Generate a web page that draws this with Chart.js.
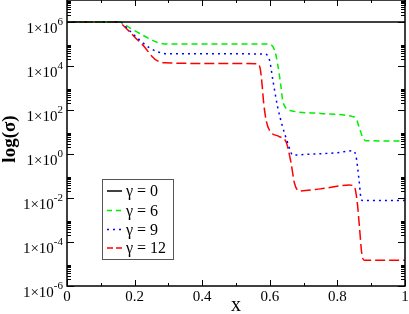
<!DOCTYPE html>
<html><head><meta charset="utf-8">
<script src="https://cdn.jsdelivr.net/npm/chart.js@4.4.1/dist/chart.umd.min.js"></script>
<style>html,body{margin:0;padding:0;background:#fff;overflow:hidden}#wrap{width:409px;height:314px;position:relative}</style>
</head><body><div id="wrap"><canvas id="c" width="409" height="314"></canvas></div>
<script>
const seriesLabels = ['γ = 0', 'γ = 6', 'γ = 9', 'γ = 12'];

const xGamma0 = [0, 1];
const sGamma0 = [1e6, 1e6];

const xGamma6 = [0, 0.156, 0.186, 0.215, 0.245, 0.268, 0.298, 0.4, 0.59, 0.599, 0.614, 0.623, 0.633, 0.638, 0.648, 0.663, 0.75, 0.845, 0.855, 0.864, 0.874, 0.884, 1];
const sGamma6 = [1e6, 1e6, 5.4e5, 3.0e5, 1.7e5, 1.17e5, 1.0e5, 1.0e5, 1.0e5, 9.8e4, 5.4e4, 1.3e4, 1.15e3, 280, 120, 93, 70, 50, 42, 17, 6.2, 4.0, 3.9];

const xGamma9 = [0, 0.156, 0.186, 0.215, 0.245, 0.268, 0.298, 0.4, 0.584, 0.599, 0.609, 0.623, 0.638, 0.653, 0.668, 0.7, 0.8, 0.845, 0.855, 0.864, 0.869, 0.874, 1];
const sGamma9 = [1e6, 1e6, 3.9e5, 1.5e5, 6.6e4, 4.4e4, 3.6e4, 3.6e4, 3.5e4, 1.9e4, 2.3e3, 141, 17, 3.2, 0.89, 0.95, 1.15, 1.4, 0.8, 0.066, 0.0115, 0.0076, 0.0076];

const xGamma12 = [0, 0.152, 0.171, 0.2, 0.23, 0.251, 0.268, 0.289, 0.45, 0.564, 0.572, 0.577, 0.582, 0.589, 0.599, 0.628, 0.648, 0.663, 0.673, 0.687, 0.75, 0.835, 0.85, 0.859, 0.866, 0.872, 0.879, 1];
const sGamma12 = [1e6, 1e6, 5.9e5, 2.1e5, 7.2e4, 2.8e4, 1.7e4, 1.4e4, 1.3e4, 1.26e4, 7e3, 1.5e3, 200, 35, 12, 6.2, 3.6, 0.38, 0.047, 0.021, 0.026, 0.039, 0.033, 0.0058, 3.5e-4, 3.1e-5, 1.5e-5, 1.5e-5];

const xTickValues = [0, 0.2, 0.4, 0.6, 0.8, 1];
const xTickLabels = ['0', '0.2', '0.4', '0.6', '0.8', '1'];
const xMinorTickValues = [0.1, 0.3, 0.5, 0.7, 0.9];
const yTickExponents = [-6, -4, -2, 0, 2, 4, 6];
const yMinorMultipliers = [2, 3, 4, 5, 6, 7, 8, 9];

const xTitle = 'x';
const yTitle = 'log(σ)';

function pts(xs, ys) { return xs.map((x, i) => ({ x: x, y: ys[i] })); }

const SERIF = '"Liberation Serif", "Times New Roman", serif';

const axesPlugin = {
  id: 'graceAxes',
  afterDraw(chart) {
    const ctx = chart.ctx;
    const a = chart.chartArea;
    const xs = chart.scales.x, ys = chart.scales.y;
    ctx.save();
    ctx.strokeStyle = '#000';
    ctx.lineWidth = 1.5;
    ctx.setLineDash([]);
    ctx.strokeRect(a.left, a.top, a.right - a.left, a.bottom - a.top);
    ctx.lineWidth = 1;
    ctx.beginPath();
    xTickValues.forEach(v => {
      const p = Math.round(xs.getPixelForValue(v)) + 0.5;
      ctx.moveTo(p, a.bottom); ctx.lineTo(p, a.bottom - 6);
      ctx.moveTo(p, a.top); ctx.lineTo(p, a.top + 6);
    });
    xMinorTickValues.forEach(v => {
      const p = Math.round(xs.getPixelForValue(v)) + 0.5;
      ctx.moveTo(p, a.bottom); ctx.lineTo(p, a.bottom - 3);
      ctx.moveTo(p, a.top); ctx.lineTo(p, a.top + 3);
    });
    yTickExponents.forEach(e => {
      const p = Math.round(ys.getPixelForValue(Math.pow(10, e))) + 0.5;
      ctx.moveTo(a.left, p); ctx.lineTo(a.left + 7, p);
      ctx.moveTo(a.right, p); ctx.lineTo(a.right - 7, p);
      yMinorMultipliers.forEach(k => {
        const q = Math.round(ys.getPixelForValue(k * Math.pow(10, e))) + 0.5;
        if (q < a.top) return;
        ctx.moveTo(a.left, q); ctx.lineTo(a.left + 4, q);
        ctx.moveTo(a.right, q); ctx.lineTo(a.right - 4, q);
      });
    });
    ctx.stroke();

    ctx.fillStyle = '#000';
    ctx.font = '15px ' + SERIF;
    ctx.textAlign = 'center';
    ctx.textBaseline = 'alphabetic';
    xTickValues.forEach((v, i) => {
      ctx.fillText(xTickLabels[i], xs.getPixelForValue(v), a.bottom + 15);
    });
    yTickExponents.forEach(e => {
      const p = ys.getPixelForValue(Math.pow(10, e));
      const base = '1×10';
      const sup = String(e);
      ctx.font = '11px ' + SERIF;
      const wSup = ctx.measureText(sup).width;
      ctx.font = '15px ' + SERIF;
      const wBase = ctx.measureText(base).width;
      const right = a.left - 4;
      ctx.textAlign = 'left';
      ctx.fillText(base, right - wSup - wBase, p + 10.5);
      ctx.font = '11px ' + SERIF;
      ctx.fillText(sup, right - wSup, p + 3);
    });
    ctx.font = '20px ' + SERIF;
    ctx.textAlign = 'center';
    ctx.fillText(xTitle, (a.left + a.right) / 2, 311);
    ctx.save();
    ctx.translate(15, (a.top + a.bottom) / 2 - 4);
    ctx.rotate(-Math.PI / 2);
    ctx.font = 'bold 19px ' + SERIF;
    ctx.textBaseline = 'alphabetic';
    ctx.fillText(yTitle, 0, 0);
    ctx.restore();

    const bx = 102, by = 179, bw = 71, bh = 80;
    ctx.fillStyle = '#fff';
    ctx.fillRect(bx, by, bw, bh);
    ctx.strokeStyle = '#555';
    ctx.lineWidth = 1;
    ctx.strokeRect(bx + 0.5, by + 0.5, bw, bh);
    const rowY = [191, 210.5, 229.5, 248];
    chart.data.datasets.forEach((ds, i) => {
      const y = rowY[i];
      ctx.strokeStyle = ds.borderColor;
      ctx.lineWidth = ds.borderWidth;
      ctx.setLineDash(ds.legendDash || []);
      ctx.beginPath();
      ctx.moveTo(107, y); ctx.lineTo(122, y);
      ctx.stroke();
      ctx.setLineDash([]);
      ctx.fillStyle = '#000';
      ctx.font = '16px ' + SERIF;
      ctx.textAlign = 'left';
      ctx.textBaseline = 'alphabetic';
      ctx.fillText(ds.label, 126, y + 5);
    });
    ctx.restore();
  }
};

new Chart(document.getElementById('c'), {
  type: 'line',
  data: {
    datasets: [
      { label: seriesLabels[0], data: pts(xGamma0, sGamma0), borderColor: '#000000', borderWidth: 1.5, pointRadius: 0, legendDash: [] },
      { label: seriesLabels[1], data: pts(xGamma6, sGamma6), borderColor: '#00ee00', borderWidth: 1.5, pointRadius: 0, borderDash: [6, 4], legendDash: [5, 4], cubicInterpolationMode: 'monotone' },
      { label: seriesLabels[2], data: pts(xGamma9, sGamma9), borderColor: '#0000ff', borderWidth: 1.5, pointRadius: 0, borderDash: [2, 4], legendDash: [2, 4], cubicInterpolationMode: 'monotone' },
      { label: seriesLabels[3], data: pts(xGamma12, sGamma12), borderColor: '#ff0000', borderWidth: 1.5, pointRadius: 0, borderDash: [10, 4], legendDash: [6, 3], cubicInterpolationMode: 'monotone' }
    ]
  },
  options: {
    responsive: false,
    animation: false,
    devicePixelRatio: 1,
    layout: { padding: { top: 0, right: 4, left: 0, bottom: 0 } },
    plugins: { legend: { display: false }, tooltip: { enabled: false } },
    scales: {
      x: {
        type: 'linear', min: 0, max: 1,
        grid: { display: false }, border: { display: false },
        ticks: { display: false },
        afterFit(s) { s.height = 28; }
      },
      y: {
        type: 'logarithmic', min: 1e-6, max: 1e7,
        grid: { display: false }, border: { display: false },
        ticks: { display: false },
        afterFit(s) { s.width = 67; }
      }
    }
  },
  plugins: [axesPlugin]
});
</script>
</body></html>
